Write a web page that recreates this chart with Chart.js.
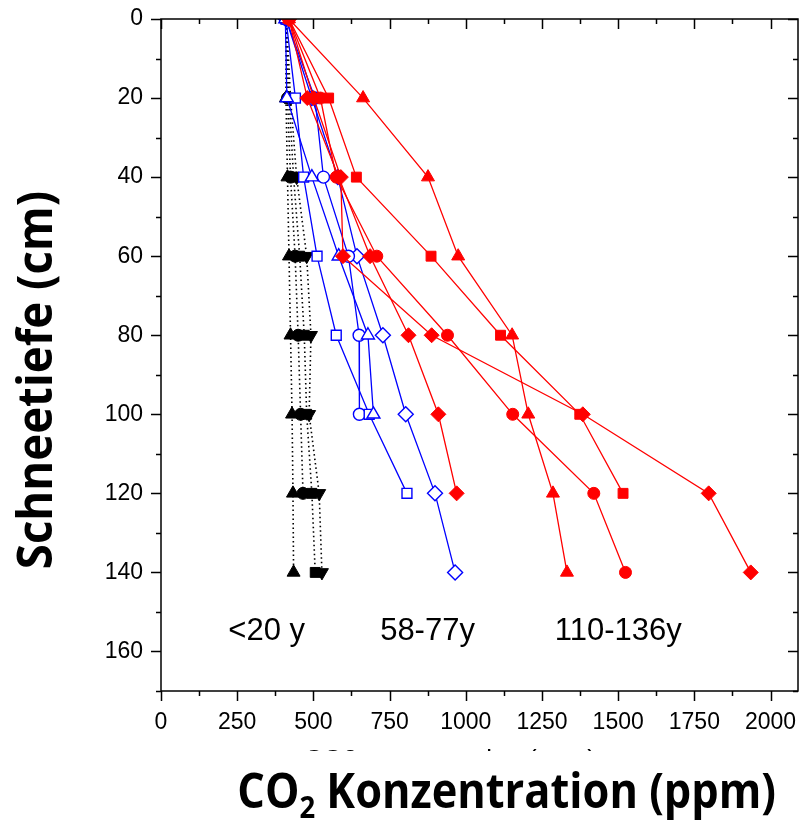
<!DOCTYPE html>
<html>
<head>
<meta charset="utf-8">
<script src="https://cdn.jsdelivr.net/npm/chart.js@4.4.1/dist/chart.umd.min.js"></script>
<style>
  html, body { margin: 0; padding: 0; background: #fff; }
  #wrap { width: 801px; height: 824px; }
</style>
</head>
<body>
<div id="wrap"><canvas id="profil" width="801" height="824"></canvas></div>
<script>
// Schneetiefe (cm) der Messpunkte
var depth = [0, 20, 40, 60, 80, 100, 120, 140];

// <20 y (schwarz, gepunktet)
var blkTri     = [410, 410, 415, 420, 425, 430, 433, 435];
var blkCirc    = [410, 415, 425, 440, 450, 458, 466];
var blkSq      = [410, 420, 435, 455, 470, 478, 495, 506];
var blkTriDown = [412, 425, 445, 478, 492, 486, 519, 528];

// 58-77y (blau, offen)
var bluTri  = [408, 413, 495, 583, 679, 697];
var bluSq   = [410, 441, 468, 512, 575, 683, 807];
var bluCirc = [410, 505, 533, 615, 650, 651];
var bluDia  = [410, 495, 580, 643, 728, 803, 899, 965];

// 110-136y (rot, gefuellt)
var redTri  = [420, 663, 876, 975, 1152, 1205, 1286, 1332];
var redSq   = [420, 550, 641, 886, 1114, 1374, 1516];
var redCirc = [420, 523, 575, 708, 940, 1154, 1420, 1524];
var redDiaA = [420, 480, 583, 686, 812, 910, 970];
var redDiaB = [420, 501, 590, 597, 888, 1384, 1797, 1935];

// Achsen
var xTicks = [0, 250, 500, 750, 1000, 1250, 1500, 1750, 2000];
var yTicks = [0, 20, 40, 60, 80, 100, 120, 140, 160];
var xMax = 2090;
var yMax = 170;

// Gruppenbeschriftung (ppm / cm)
var groupLabels = ['<20 y', '58-77y', '110-136y'];
var groupX = [221, 719, 1292];
var groupDepth = 157;

function pts(vals) {
    var out = [];
    for (var i = 0; i < vals.length; i++) {
        out.push({x: vals[i], y: depth[i]});
    }
    return out;
}

function serie(vals, color, style, filled, dashed, rot) {
    return {
        data: pts(vals),
        showLine: true,
        borderColor: color,
        backgroundColor: filled ? color : '#ffffff',
        borderWidth: dashed ? 1.6 : 1.3,
        borderDash: dashed ? [1.5, 3] : [],
        pointStyle: style,
        pointRotation: rot || 0,
        pointRadius: style == 'circle' ? 6 : (style == 'rect' ? 7 : 7.5),
        pointBorderColor: color,
        pointBackgroundColor: filled ? color : '#ffffff',
        pointBorderWidth: filled ? 1 : 1.4,
        fill: false,
        tension: 0
    };
}

var RED = '#ff0000';
var BLUE = '#0000ff';
var BLACK = '#000000';

// erster Datensatz wird oben gezeichnet
var datasets = [
    serie(redTri, RED, 'triangle', true),
    serie(redSq, RED, 'rect', true),
    serie(redCirc, RED, 'circle', true),
    serie(redDiaA, RED, 'rectRot', true),
    serie(redDiaB, RED, 'rectRot', true),
    serie(bluTri, BLUE, 'triangle', false),
    serie(bluSq, BLUE, 'rect', false),
    serie(bluCirc, BLUE, 'circle', false),
    serie(bluDia, BLUE, 'rectRot', false),
    serie(blkTri, BLACK, 'triangle', true, true),
    serie(blkCirc, BLACK, 'circle', true, true),
    serie(blkSq, BLACK, 'rect', true, true),
    serie(blkTriDown, BLACK, 'triangle', true, true, 180)
];

// Rahmen mit Haupt- und Nebenstrichen, Achsentitel, Gruppenlabels
var frameTicks = {
    id: 'frameTicks',
    afterDatasetsDraw: function(chart) {
        var ctx = chart.ctx;
        var a = chart.chartArea;
        var x = chart.scales.x;
        var y = chart.scales.y;
        ctx.save();
        ctx.strokeStyle = '#000';
        ctx.lineWidth = 1.5;
        ctx.strokeRect(a.left, a.top, a.right - a.left, a.bottom - a.top);
        ctx.beginPath();
        for (var v = 0; v <= xMax; v += 125) {
            var px = Math.round(x.getPixelForValue(v)) + 0.5;
            var len = v % 250 === 0 ? 10 : 5;
            ctx.moveTo(px, a.bottom); ctx.lineTo(px, a.bottom + len);
            ctx.moveTo(px, a.top); ctx.lineTo(px, a.top + len);
        }
        for (var d = 0; d <= yMax; d += 10) {
            var py = Math.round(y.getPixelForValue(d)) + 0.5;
            var l2 = d % 20 === 0 ? 10 : 5;
            ctx.moveTo(a.left, py); ctx.lineTo(a.left - l2, py);
            ctx.moveTo(a.right, py); ctx.lineTo(a.right - l2, py);
        }
        ctx.stroke();

        // Gruppenlabels
        ctx.fillStyle = '#000';
        ctx.font = '31px "Liberation Sans", Arial, sans-serif';
        ctx.textAlign = 'left';
        ctx.textBaseline = 'alphabetic';
        for (var i = 0; i < groupLabels.length; i++) {
            ctx.fillText(groupLabels[i], x.getPixelForValue(groupX[i]), y.getPixelForValue(groupDepth));
        }

        // alter, fast verdeckter Achsentitel (nur Oberkanten sichtbar)
        ctx.save();
        ctx.beginPath();
        ctx.rect(0, 744, 801, 7);
        ctx.clip();
        ctx.font = '26px "Liberation Sans", Arial, sans-serif';
        ctx.textAlign = 'center';
        ctx.fillText('CO2 concentration (ppm)', 450, 768);
        ctx.restore();

        // y-Titel
        ctx.font = 'bold 49px "Open Sans", sans-serif';
        ctx.textAlign = 'center';
        ctx.textBaseline = 'middle';
        ctx.save();
        ctx.translate(38, 380);
        ctx.rotate(-Math.PI / 2);
        ctx.scale(0.93, 1);
        ctx.fillText('Schneetiefe (cm)', 0, 0);
        ctx.restore();

        // x-Titel mit tiefgestellter 2
        var big = 'bold 49px "Open Sans", sans-serif';
        var small = 'bold 31px "Open Sans", sans-serif';
        var sx = 0.885;
        ctx.textAlign = 'left';
        ctx.textBaseline = 'alphabetic';
        ctx.font = big;
        var w1 = ctx.measureText('CO').width;
        var w3 = ctx.measureText(' Konzentration (ppm)').width;
        ctx.font = small;
        var w2 = ctx.measureText('2').width;
        ctx.save();
        ctx.translate(776 - (w1 + w2 + w3) * sx, 808);
        ctx.scale(sx, 1);
        ctx.font = big;
        ctx.fillText('CO', 0, 0);
        ctx.font = small;
        ctx.fillText('2', w1, 10);
        ctx.font = big;
        ctx.fillText(' Konzentration (ppm)', w1 + w2, 0);
        ctx.restore();
        ctx.restore();
    }
};

var ctx = document.getElementById('profil').getContext('2d');
var chart = new Chart(ctx, {
    type: 'scatter',
    data: { datasets: datasets },
    options: {
        responsive: false,
        animation: false,
        layout: { autoPadding: false, padding: { left: 0, top: 19, right: 3, bottom: 0 } },
        plugins: {
            legend: { display: false },
            tooltip: { enabled: false }
        },
        scales: {
            x: {
                type: 'linear',
                min: 0,
                max: xMax,
                afterBuildTicks: function(s) { s.ticks = xTicks.map(function(v) { return {value: v}; }); },
                afterFit: function(s) {
                    s.height = 824 - 691;
                    s.paddingLeft = 0;
                    s.paddingRight = 0;
                },
                grid: { display: false },
                border: { display: false },
                ticks: {
                    padding: 10,
                    color: '#000',
                    maxRotation: 0,
                    callback: function(v) { return String(v); },
                    font: { family: '"Liberation Sans", Arial, sans-serif', size: 23 }
                }
            },
            y: {
                type: 'linear',
                reverse: true,
                min: 0,
                max: yMax,
                afterBuildTicks: function(s) { s.ticks = yTicks.map(function(v) { return {value: v}; }); },
                afterFit: function(s) {
                    s.width = 161;
                    s.paddingTop = 0;
                    s.paddingBottom = 0;
                },
                grid: { display: false },
                border: { display: false },
                ticks: {
                    padding: 10,
                    color: '#000',
                    callback: function(v) { return String(v); },
                    font: { family: '"Liberation Sans", Arial, sans-serif', size: 23 }
                }
            }
        }
    },
    plugins: [frameTicks]
});
</script>
</body>
</html>
